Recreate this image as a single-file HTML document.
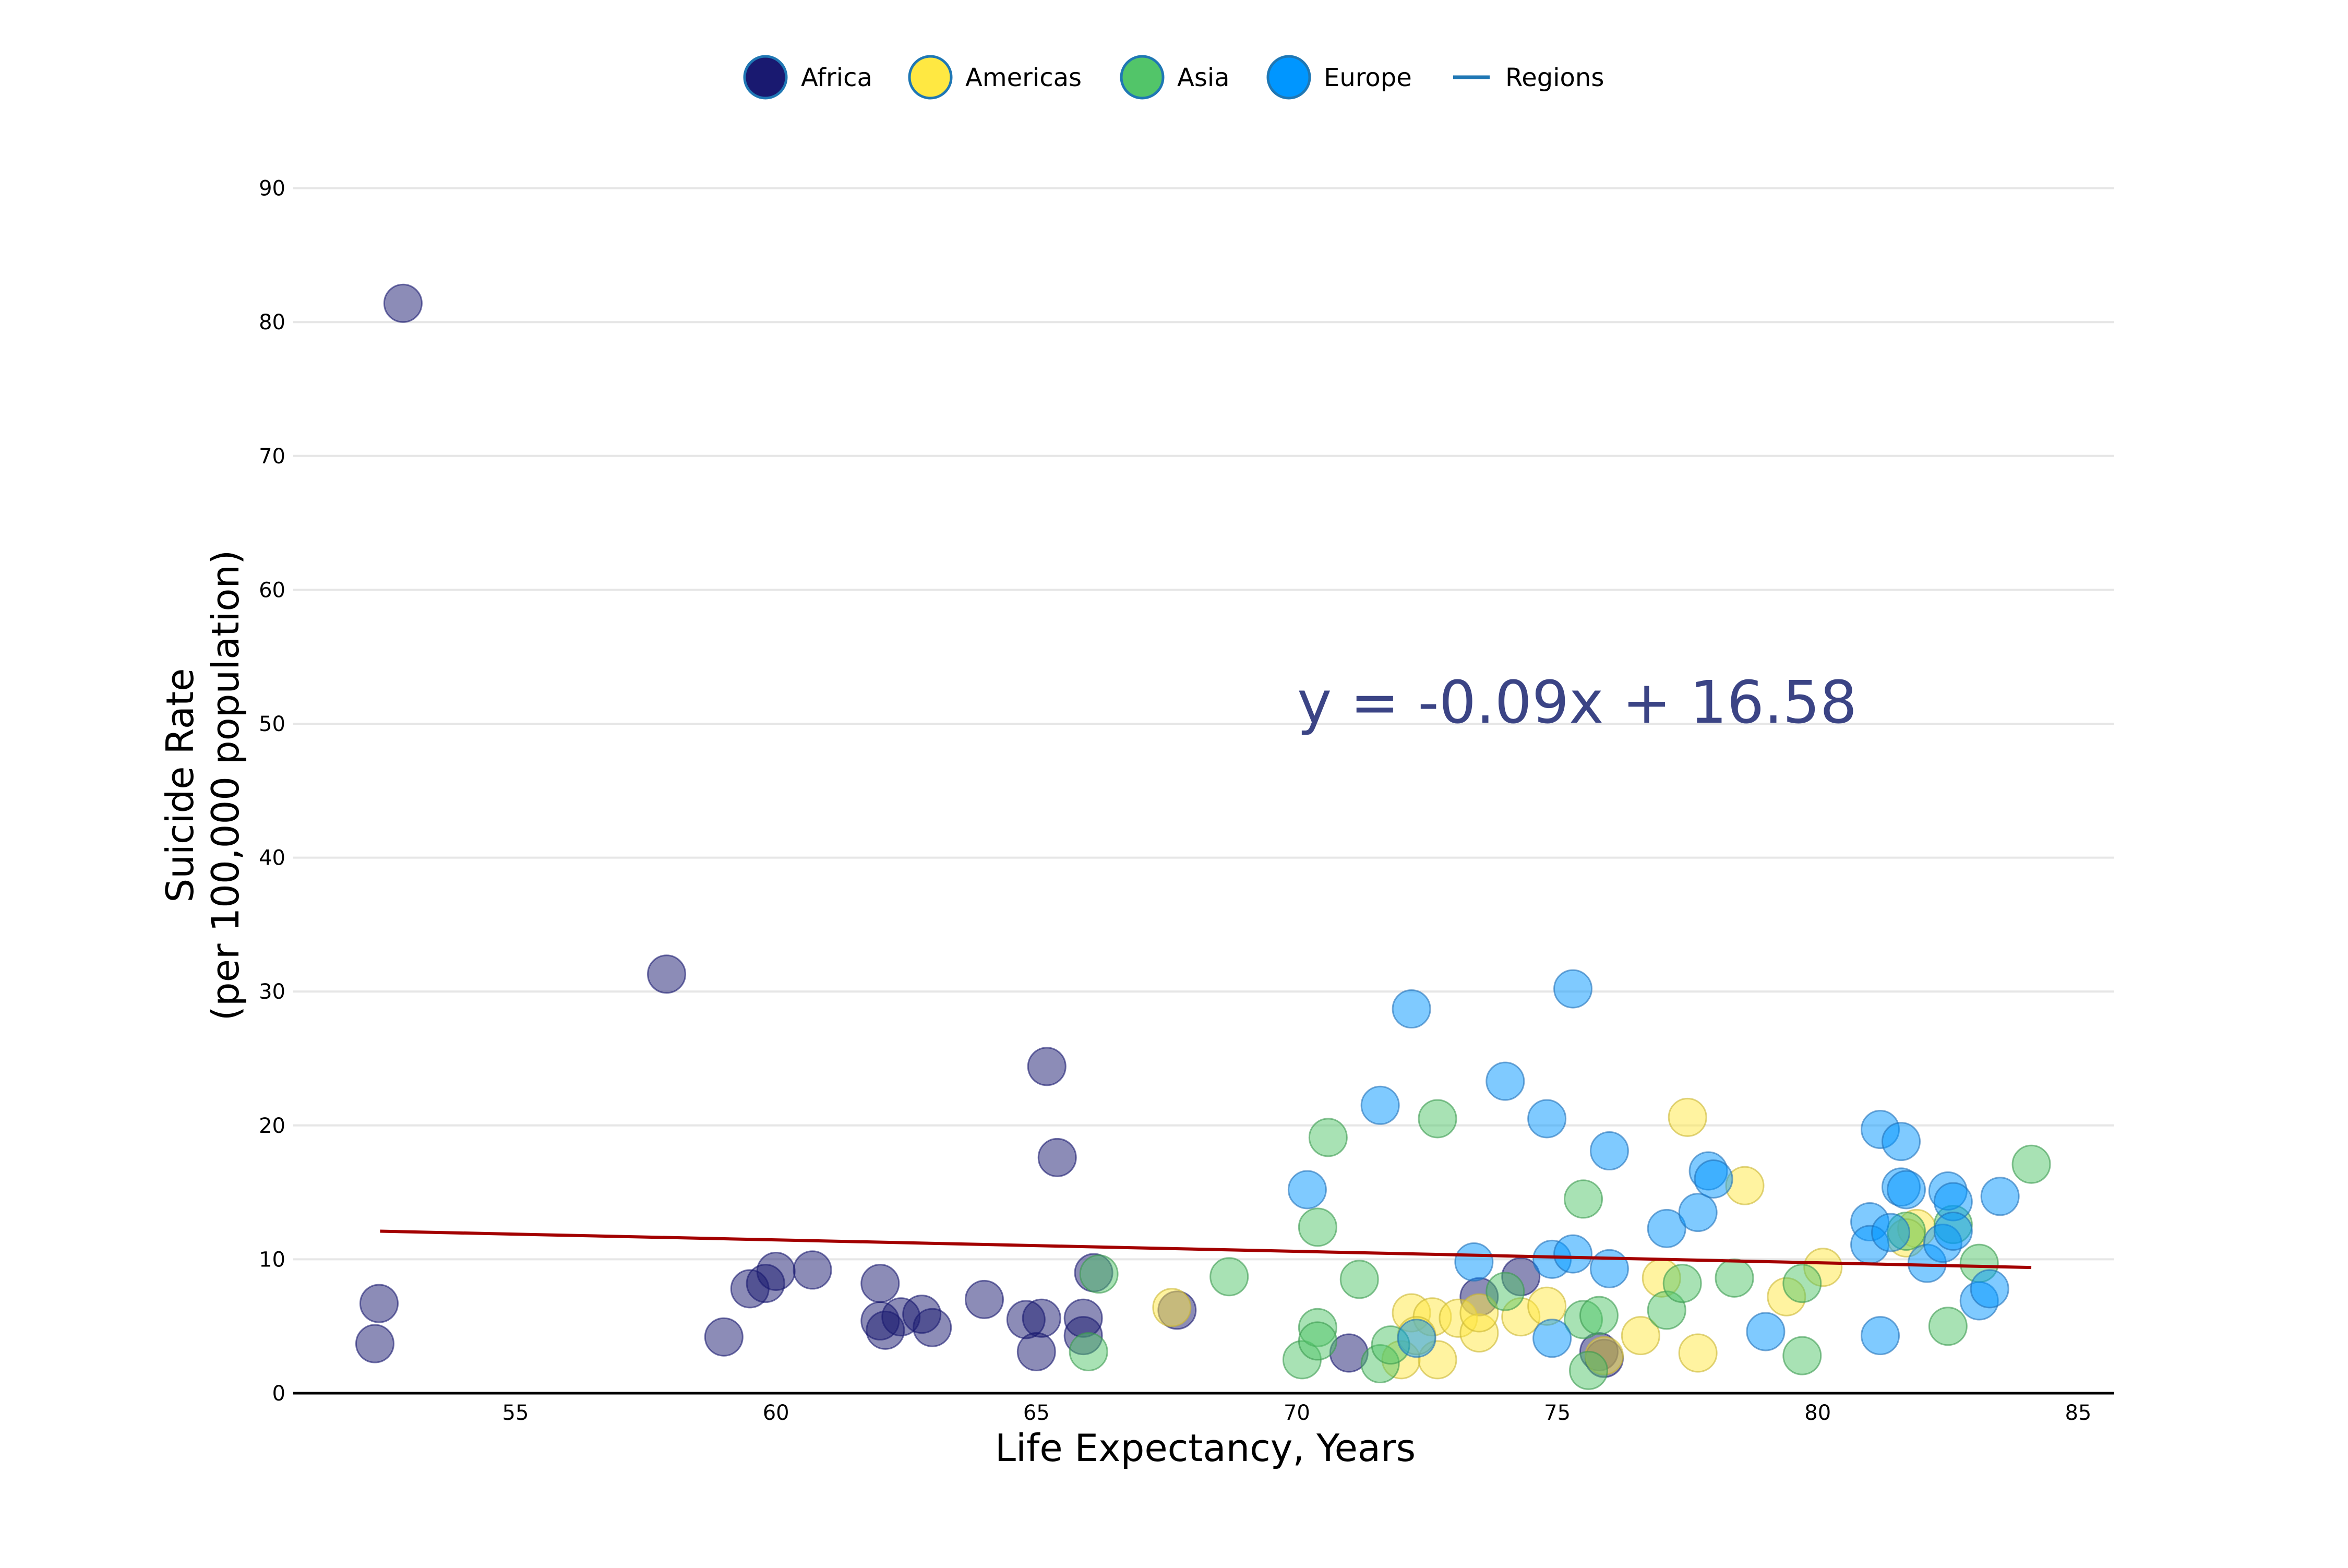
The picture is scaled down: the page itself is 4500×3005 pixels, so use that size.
<!DOCTYPE html>
<html><head><meta charset="utf-8"><style>
html,body{margin:0;padding:0;background:#fff}
svg text{font-family:"DejaVu Sans","Liberation Sans",sans-serif}
</style></head><body>
<svg id="chart" width="4500" height="3000" viewBox="0 0 4500 3000" xmlns="http://www.w3.org/2000/svg">
<g id="grid"></g>
<g id="yticks"></g>
<g id="xticks"></g>
<g id="points"></g>
<g id="trend"></g>
<line x1="562" y1="2670" x2="4052" y2="2670" stroke="#000" stroke-width="5"/>
<text x="2310" y="2800" font-size="72" text-anchor="middle">Life Expectancy, Years</text>
<g transform="translate(400,1505) rotate(-90)">
<text x="0" y="-30" font-size="72" text-anchor="middle">Suicide Rate</text>
<text x="0" y="57" font-size="72" text-anchor="middle">(per 100,000 population)</text>
</g>
<text x="2486" y="1385" font-size="112" fill="#3b4485">y = -0.09x + 16.58</text>
<g transform="translate(-15,0)">
<g><circle cx="1482" cy="148" r="40" fill="#191970" stroke="#1f77b4" stroke-width="5"/><text x="1550" y="165" font-size="48">Africa</text></g>
<g><circle cx="1798" cy="148" r="40" fill="#ffe842" stroke="#1f77b4" stroke-width="5"/><text x="1865" y="165" font-size="48">Americas</text></g>
<g><circle cx="2204" cy="148" r="40" fill="#52c569" stroke="#1f77b4" stroke-width="5"/><text x="2271" y="165" font-size="48">Asia</text></g>
<g><circle cx="2485" cy="148" r="40" fill="#0096ff" stroke="#1f77b4" stroke-width="5"/><text x="2552" y="165" font-size="48">Europe</text></g>
<g><line x1="2800" y1="148" x2="2870" y2="148" stroke="#1f77b4" stroke-width="7"/><text x="2900" y="165" font-size="48">Regions</text></g>
</g>
</svg>
<script>
const xTicks=[55,60,65,70,75,80,85];
const yTicks=[0,10,20,30,40,50,60,70,80,90];
const africaX=[52.84,52.38,52.3,57.9,59.0,59.5,59.8,60.0,60.7,62.0,62.0,62.1,62.4,62.8,63.0,64.0,64.8,65.1,65.0,65.2,65.4,65.9,65.9,66.1,67.7,71.0,73.5,74.3,75.8,75.9];
const africaY=[81.4,6.7,3.7,31.3,4.2,7.8,8.2,9.1,9.2,8.2,5.4,4.7,5.7,5.9,4.9,7.0,5.5,5.6,3.1,24.4,17.6,4.3,5.6,9.0,6.2,3.0,7.2,8.7,3.1,2.6];
const americasX=[67.6,72.0,72.2,72.6,72.7,73.1,73.5,73.5,74.3,74.8,75.9,76.6,77.0,77.5,77.7,78.6,79.4,80.1,81.9,81.7,72.3];
const americasY=[6.4,2.5,6.0,5.7,2.5,5.6,4.5,6.0,5.7,6.5,2.8,4.3,8.6,20.6,3.0,15.5,7.2,9.4,12.3,11.6,4.3];
const asiaX=[66.2,66.0,68.7,70.1,70.4,70.4,70.4,70.6,71.2,71.6,71.8,72.7,74.0,75.5,75.5,75.6,75.8,77.1,77.4,78.4,79.7,79.7,81.7,82.5,82.6,83.1,84.1];
const asiaY=[8.9,3.1,8.7,2.5,12.4,4.9,3.9,19.1,8.5,2.2,3.6,20.5,7.6,14.5,5.5,1.7,5.8,6.2,8.2,8.6,2.8,8.2,12.1,5.0,12.6,9.7,17.1];
const europeX=[70.2,71.6,72.2,72.3,73.4,74.0,74.8,74.9,74.9,75.3,75.3,76.0,76.0,77.1,77.7,77.9,78.0,79.0,81.0,81.0,81.2,81.2,81.4,81.6,81.6,81.7,82.1,82.4,82.5,82.6,82.6,83.1,83.3,83.5];
const europeY=[15.2,21.5,28.7,4.1,9.8,23.3,20.5,10.0,4.1,10.4,30.2,18.1,9.3,12.3,13.5,16.6,16.0,4.6,12.8,11.1,19.7,4.3,12.0,18.8,15.4,15.2,9.7,11.2,15.1,14.3,12.1,6.9,7.8,14.7];
const trendX=[52.4,84.1];
const trendSlope=-0.0855, trendIntercept=16.58;

const NS='http://www.w3.org/2000/svg';
const sx=v=>988+(v-55)*99.83;
const sy=v=>2670-v*25.66;
function mk(tag,attrs,parent){const e=document.createElementNS(NS,tag);for(const k in attrs)e.setAttribute(k,attrs[k]);parent.appendChild(e);return e;}
const grid=document.getElementById('grid'),yt=document.getElementById('yticks'),xt=document.getElementById('xticks');
yTicks.forEach(t=>{
  if(t>0){const g=mk('line',{x1:562,x2:4052,y1:sy(t),y2:sy(t),stroke:'#e6e6e6','stroke-width':4},grid);
  
  }
  const l=mk('text',{x:547,y:sy(t)+14,'font-size':40,'text-anchor':'end'},yt);l.textContent=t;
  
  
});
xTicks.forEach(t=>{
  const l=mk('text',{x:sx(t),y:2721,'font-size':40,'text-anchor':'middle'},xt);l.textContent=t;
  
  
});
const pts=document.getElementById('points');
const series=[['africa',africaX,africaY,'#191970','#191970'],['americas',americasX,americasY,'#ffe842','#c9b530'],['asia',asiaX,asiaY,'#52c569','#3a9a4f'],['europe',europeX,europeY,'#0096ff','#1f6fb8']];
series.forEach(([n,xs,ys,f,s])=>{xs.forEach((x,i)=>{
  const c=mk('circle',{cx:sx(x),cy:sy(ys[i]),r:36,fill:f,'fill-opacity':0.5,stroke:s,'stroke-opacity':0.6,'stroke-width':3},pts);
  
  
});});
const tr=document.getElementById('trend');
const tl=mk('line',{x1:sx(trendX[0]),y1:sy(trendSlope*trendX[0]+trendIntercept),x2:sx(trendX[1]),y2:sy(trendSlope*trendX[1]+trendIntercept),stroke:'#a30000','stroke-width':6},tr);


</script>
</body></html>
